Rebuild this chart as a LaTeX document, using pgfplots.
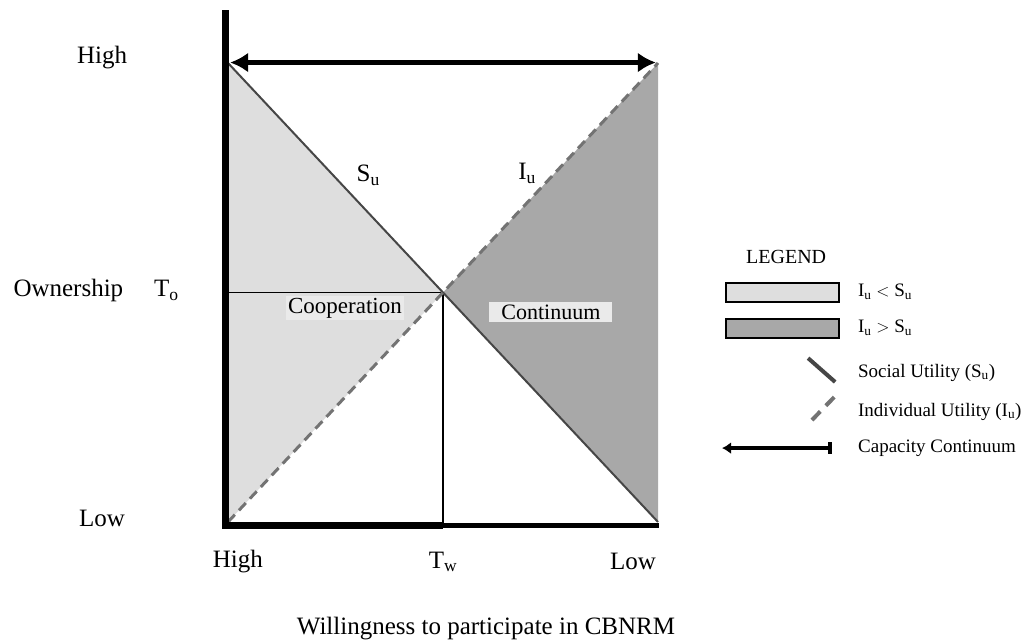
\documentclass[border=0pt]{standalone}
\usepackage{fontspec}
\setmainfont{Liberation Serif}
\usepackage{pgfplots}
\pgfplotsset{compat=1.18}
\usetikzlibrary{arrows.meta}
\definecolor{lightreg}{RGB}{222,222,222}
\definecolor{darkreg}{RGB}{168,168,168}
\definecolor{boxbg}{RGB}{234,234,234}
\definecolor{sucol}{RGB}{70,70,70}
\definecolor{iucol}{RGB}{115,115,115}
\begin{document}
\begin{tikzpicture}[font=\fontsize{25}{30}\selectfont]
\path[use as bounding box] (0,0) rectangle (1028pt,642pt);
\begin{axis}[at={(228pt,120pt)}, anchor=south west, scale only axis,
  width=430pt, height=459pt, xmin=0, xmax=1, ymin=0, ymax=1,
  hide axis, clip=false]
% regions
\addplot[fill=lightreg, draw=none] coordinates {(0,0) (0,1) (0.5,0.5)} -- cycle;
\addplot[fill=darkreg, draw=none] coordinates {(1,0) (1,1) (0.5,0.5)} -- cycle;
% threshold lines
\addplot[black, line width=1.6pt] coordinates {(0,0.5) (0.5,0.5)};
\addplot[black, line width=1.6pt] coordinates {(0.5,0.5) (0.5,-0.007)};
% utilities
\addplot[sucol, line width=2pt] coordinates {(0,1) (1,0)};
\addplot[iucol, line width=3pt, dash pattern=on 10pt off 6pt] coordinates {(0,0) (1,1)};
% axes
\addplot[black, line width=7pt] coordinates {(-0.005,-0.015) (-0.005,1.115)};
\addplot[black, line width=7pt] coordinates {(-0.012,-0.0076) (0.5,-0.0076)};
\addplot[black, line width=5pt] coordinates {(0.5,-0.0076) (1.003,-0.0076)};
% capacity continuum arrow
\addplot[black, line width=5pt, {Latex[length=18pt,width=20pt]}-{Latex[length=18pt,width=20pt]}] coordinates {(0.005,1.001) (0.995,1.001)};
% labels
\node at (axis cs:-0.293,1.013) {High};
\node at (axis cs:-0.293,0.007) {Low};
\node[anchor=west] at (axis cs:-0.507,0.505) {Ownership};
\node[anchor=west] at (axis cs:-0.180,0.505) {T\textsubscript{o}};
\node at (axis cs:0.023,-0.087) {High};
\node at (axis cs:0.5,-0.087) {T\textsubscript{w}};
\node at (axis cs:0.942,-0.087) {Low};
\node at (axis cs:0.6,-0.231) {Willingness to participate in CBNRM};
\node[anchor=west] at (axis cs:0.291,0.756) {S\textsubscript{u}};
\node[anchor=west] at (axis cs:0.667,0.760) {I\textsubscript{u}};
\node[fill=boxbg, inner sep=2pt, font=\fontsize{23}{27}\selectfont] at (axis cs:0.272,0.466) {Cooperation};
\node[fill=boxbg, inner xsep=12pt, inner ysep=3pt, font=\fontsize{22}{26}\selectfont] at (axis cs:0.751,0.4575) {Continuum};
% legend
\node[font=\fontsize{20}{24}\selectfont] at (axis cs:1.298,0.577) {LEGEND};
\addplot[fill=lightreg, draw=black, line width=2pt] coordinates {(1.158,0.479) (1.421,0.479) (1.421,0.521) (1.158,0.521)} -- cycle;
\addplot[fill=darkreg, draw=black, line width=2pt] coordinates {(1.158,0.401) (1.421,0.401) (1.421,0.442) (1.158,0.442)} -- cycle;
\addplot[sucol, line width=4pt] coordinates {(1.349,0.357) (1.412,0.305)};
\addplot[iucol, line width=4pt, dash pattern=on 12pt off 8pt] coordinates {(1.358,0.222) (1.419,0.281)};
\addplot[black, line width=4pt, {Latex[length=9pt,width=12pt]}-{Bar[width=12pt]}] coordinates {(1.149,0.161) (1.405,0.161)};
\begin{scope}[font=\fontsize{19}{23}\selectfont]
\node[anchor=west, inner xsep=0pt] at (axis cs:1.465,0.501) {I\textsubscript{u} $<$ S\textsubscript{u}};
\node[anchor=west, inner xsep=0pt] at (axis cs:1.465,0.423) {I\textsubscript{u} $>$ S\textsubscript{u}};
\node[anchor=west, inner xsep=0pt] at (axis cs:1.465,0.325) {Social Utility (S\textsubscript{u})};
\node[anchor=west, inner xsep=0pt] at (axis cs:1.465,0.240) {Individual Utility (I\textsubscript{u})};
\node[anchor=west, inner xsep=0pt] at (axis cs:1.465,0.161) {Capacity Continuum};
\end{scope}
\end{axis}
\end{tikzpicture}
\end{document}
